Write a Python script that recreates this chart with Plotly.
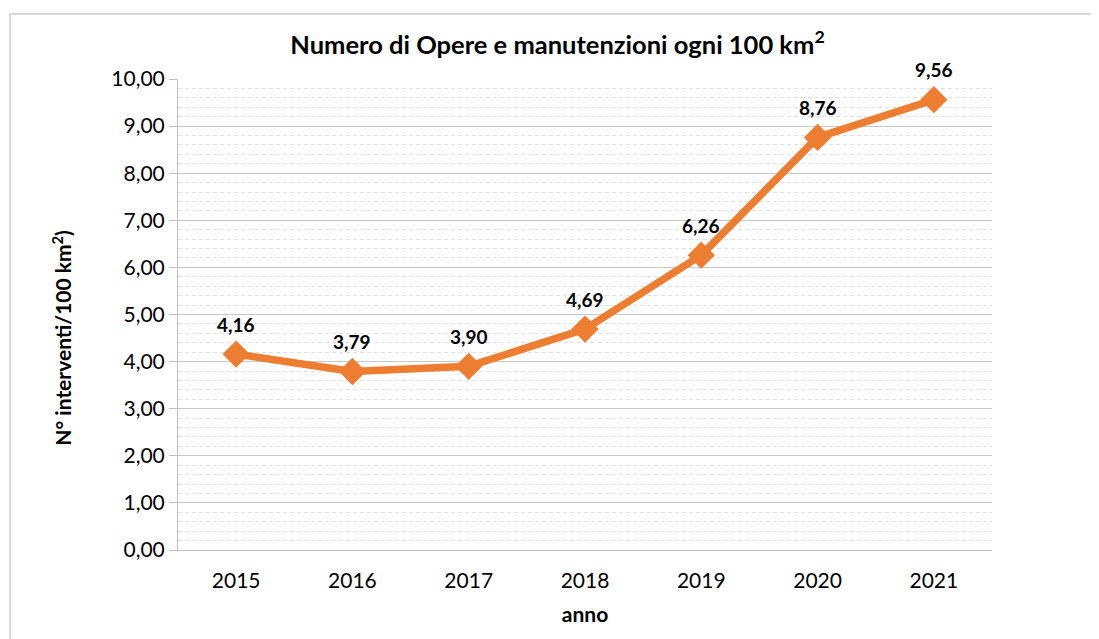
import plotly.graph_objects as go

anni = ["2015", "2016", "2017", "2018", "2019", "2020", "2021"]
valori = [4.16, 3.79, 3.90, 4.69, 6.26, 8.76, 9.56]
etichette = ["4,16", "3,79", "3,90", "4,69", "6,26", "8,76", "9,56"]
y_ticks = [0, 1, 2, 3, 4, 5, 6, 7, 8, 9, 10]
y_tick_labels = ["0,00", "1,00", "2,00", "3,00", "4,00", "5,00", "6,00", "7,00", "8,00", "9,00", "10,00"]

FONT = "Lato, 'Open Sans', sans-serif"
ORANGE = "#ED7D31"

fig = go.Figure()
fig.add_trace(go.Scatter(
    x=anni, y=valori, mode="lines+markers",
    line=dict(color=ORANGE, width=7.5),
    marker=dict(symbol="diamond", size=21, color=ORANGE),
    hoverinfo="skip", showlegend=False,
))

for i, (v, t) in enumerate(zip(valori, etichette)):
    fig.add_annotation(x=i, y=v, xref="x", yref="y", text="<b>%s</b>" % t, showarrow=False,
                       yshift=30, font=dict(family=FONT, size=19, color="#000000"))

# y-axis title as a rotated annotation
fig.add_annotation(x=-0.143, y=0.45, xref="paper", yref="paper",
                   text="<b>N° interventi/100 km<sup>2</sup>)</b>", textangle=-90,
                   showarrow=False, xanchor="center", yanchor="middle",
                   font=dict(family=FONT, size=21, color="#000000"))

fig.update_layout(
    width=1099, height=639,
    margin=dict(l=170, r=115, t=71, b=97),
    paper_bgcolor="white", plot_bgcolor="white",
    font=dict(family=FONT, color="#000000"),
    title=dict(text="<b>Numero di Opere e manutenzioni ogni 100 km<sup>2</sup></b>",
               x=0.5, xanchor="center", y=0.942, yanchor="middle",
               font=dict(family=FONT, size=25.5, color="#000000")),
    xaxis=dict(
        type="category", range=[-0.5, 6.5],
        showgrid=False, zeroline=False,
        showline=True, linecolor="#bfbfbf", linewidth=1,
        ticks="", ticklabelstandoff=12,
        tickfont=dict(family=FONT, size=21, color="#000000"),
        title=dict(text="<b>anno</b>", font=dict(family=FONT, size=21, color="#000000"), standoff=16),
    ),
    yaxis=dict(
        range=[0, 10], tickvals=y_ticks, ticktext=y_tick_labels,
        showgrid=True, gridcolor="#c8c8c8", gridwidth=1,
        zeroline=False,
        showline=True, linecolor="#bfbfbf", linewidth=1,
        ticks="outside", ticklen=8, tickcolor="#bfbfbf",
        tickfont=dict(family=FONT, size=21, color="#000000"),
        minor=dict(dtick=0.2, showgrid=True, gridcolor="#e0e0e0", griddash="4px,3px", gridwidth=1, ticks=""),
    ),
)

fig.add_shape(type="rect", xref="paper", yref="paper",
              x0=-0.2064, x1=1.2, y0=-0.3, y1=1.138,
              line=dict(color="#d9d9d9", width=2), fillcolor="rgba(0,0,0,0)", layer="below")

fig.write_html("out.html")
